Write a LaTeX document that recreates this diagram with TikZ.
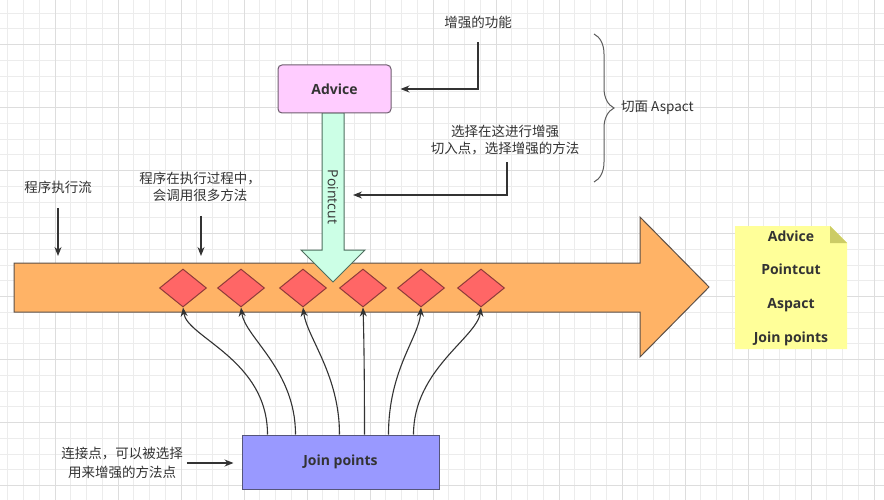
\documentclass[tikz,border=0pt]{standalone}
\usepackage{fontspec}
\setmainfont{Open Sans}
\newfontfamily\cjk{Noto Sans CJK SC}
\usetikzlibrary{arrows.meta,shapes.geometric,decorations.pathreplacing}
\definecolor{ink}{HTML}{333333}
\definecolor{gridminor}{HTML}{ECECEC}
\definecolor{gridmajor}{HTML}{DDDDDD}
\definecolor{flowfill}{HTML}{FFB366}
\definecolor{flowline}{HTML}{5C5048}
\definecolor{methodfill}{HTML}{FF6666}
\definecolor{methodline}{HTML}{8F3B39}
\definecolor{advicefill}{HTML}{FFCCFF}
\definecolor{adviceline}{HTML}{6E5E6E}
\definecolor{cutfill}{HTML}{CCFFE6}
\definecolor{cutline}{HTML}{4F6F5F}
\definecolor{joinfill}{HTML}{9999FF}
\definecolor{joinline}{HTML}{55557A}
\definecolor{glossfill}{HTML}{FFFF99}
\definecolor{glossfold}{HTML}{CCCC66}
\tikzset{
  remark/.style={font=\cjk\fontsize{13.5}{17}\selectfont, text=ink, align=center, inner sep=0pt},
  title/.style={font=\bfseries\fontsize{14}{17}\selectfont, text=ink},
  link/.style={draw=ink, line width=1.1pt, -{Stealth[length=9pt,width=7pt]}},
  method/.style={diamond, draw=methodline, fill=methodfill, line width=1pt,
    minimum width=47pt, minimum height=38pt, inner sep=0pt},
}
\begin{document}
\begin{tikzpicture}[x=1pt,y=-1pt]
  \useasboundingbox (0,0) rectangle (884,500);
  \fill[white] (0,0) rectangle (884,500);
  % grid
  \foreach \i in {0,...,56} \draw[gridminor] ({7.5+15.75*\i},0) -- ++(0,500);
  \foreach \i in {0,...,31} \draw[gridminor] (0,{12.8+15.75*\i}) -- ++(884,0);
  \foreach \i in {0,...,13} \draw[gridmajor] ({54.75+63*\i},0) -- ++(0,500);
  \foreach \i in {0,...,7} \draw[gridmajor] (0,{44.3+63*\i}) -- ++(884,0);

  % program flow
  \draw[fill=flowfill, draw=flowline, line width=1pt]
    (14,263) -- (640,263) -- (640,217) -- (709,287) -- (640,357) -- (640,312) -- (14,312) -- cycle;
  \coordinate (flowtop) at (0,256);

  % pointcut
  \draw[fill=cutfill, draw=cutline, line width=1pt]
    (322,113) -- (344,113) -- (344,250) -- (365,250) -- (333,282) -- (301,250) -- (322,250) -- cycle;
  \node[rotate=-90, font=\fontsize{14}{17}\selectfont, text=ink] (cut) at (333,197) {Pointcut};
  \coordinate (cutside) at (353,195);

  \node[draw=adviceline, fill=advicefill, line width=1pt, rounded corners=4pt,
    minimum width=113pt, minimum height=48pt, title] (adv) at (334.5,89) {Advice};

  % methods
  \foreach \x [count=\n] in {183,241,303,363,421,481}
    \node[method] (m\n) at (\x,288) {};

  \node[draw=joinline, fill=joinfill, line width=1pt,
    minimum width=197pt, minimum height=54pt, title] (jp) at (340.5,462) {Join points};

  % remarks
  \node[remark] (func) at (478,22) {增强的功能};
  \node[remark] (sel) at (505,140) {选择在这进行增强\\切入点，选择增强的方法};
  \node[remark] (flow) at (58,187) {程序执行流};
  \node[remark] (call) at (200,187) {程序在执行过程中，\\会调用很多方法};
  \node[remark, font=\cjk\fontsize{13.5}{19}\selectfont] (jtxt) at (122,463) {连接点，可以被选择\\用来增强的方法点};
  \node[remark, anchor=west] (asp) at (621,108) {切面 Aspact};

  \draw[draw=ink!80, line width=1pt, decorate, decoration={brace, amplitude=20pt}]
    (594,34) -- (594,182);

  % glossary note
  \fill[glossfill] (735,226) -- (830,226) -- (847,243) -- (847,349) -- (735,349) -- cycle;
  \fill[glossfold] (830,226) -- (847,243) -- (830,243) -- cycle;
  \node[title, align=center, font=\bfseries\fontsize{14}{33.7}\selectfont] (gloss) at (791,288)
    {Advice\\Pointcut\\Aspact\\Join points};

  % connectors
  \draw[link, shorten <=14pt, shorten >=9pt] (func.south) |- (adv.east);
  \draw[link, shorten <=7pt] ([xshift=2pt]sel.south) |- (cutside);
  \draw[link, shorten <=15pt] (flow.south) -- (flow.south |- flowtop);
  \draw[link, shorten <=14pt] ([xshift=1pt]call.south) -- ([xshift=1pt]call.south |- flowtop);
  \draw[link, shorten <=4pt, shorten >=8pt] (jtxt.east) -- (jtxt.east -| jp.west);
  \foreach \s/\n/\c/\e in {26/1/75/4, 54/2/65/4, 98/3/60/4, 123/4/50/1, 147/5/65/-2, 172/6/65/-4}
    \draw[link] ([xshift=\s pt]jp.north west) .. controls +(0,-\c) and +(\e,30) .. (m\n.south);
\end{tikzpicture}
\end{document}
